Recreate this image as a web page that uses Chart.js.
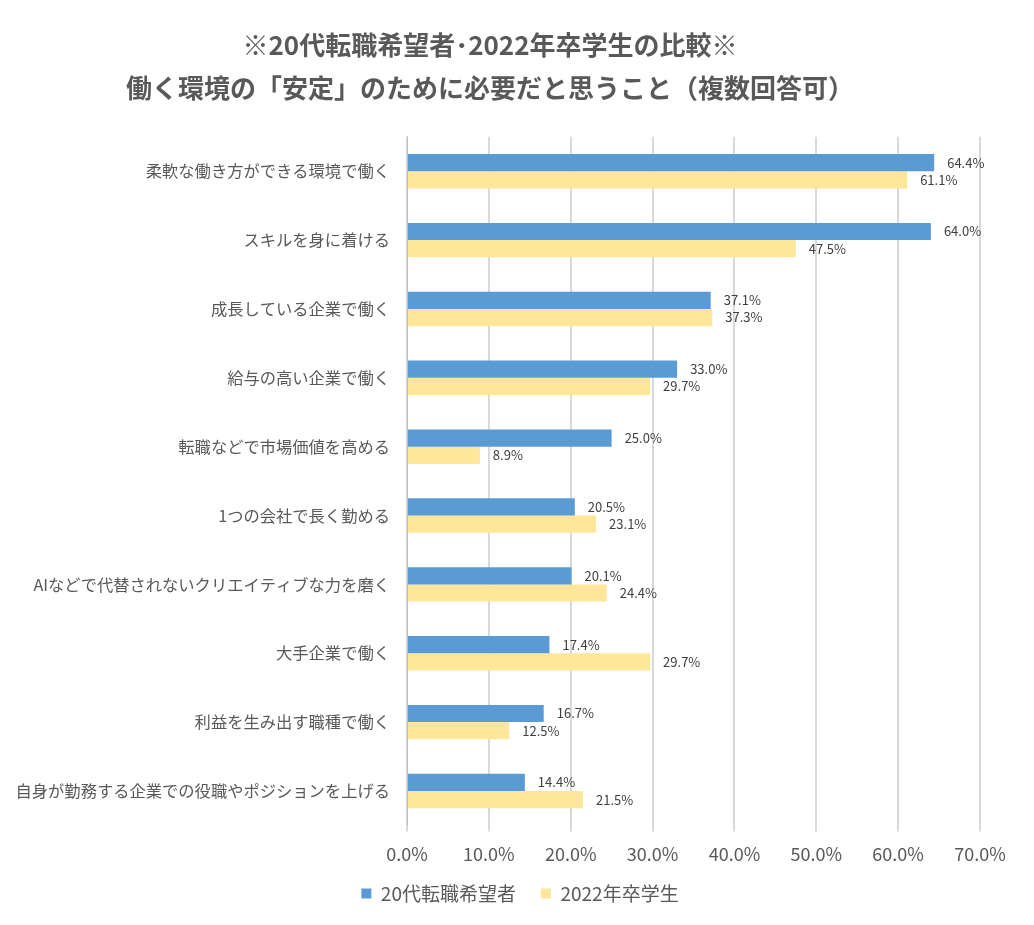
<!DOCTYPE html>
<html>
<head>
<meta charset="utf-8">
<script src="https://cdn.jsdelivr.net/npm/chart.js@4"></script>
<style>
  html, body { margin: 0; padding: 0; background: #fff; }
  #wrap { width: 1034px; height: 925px; }
</style>
</head>
<body>
<div id="wrap"><canvas id="chart"></canvas></div>
<script>
const categories = [
  '柔軟な働き方ができる環境で働く',
  'スキルを身に着ける',
  '成長している企業で働く',
  '給与の高い企業で働く',
  '転職などで市場価値を高める',
  '1つの会社で長く勤める',
  'AIなどで代替されないクリエイティブな力を磨く',
  '大手企業で働く',
  '利益を生み出す職種で働く',
  '自身が勤務する企業での役職やポジションを上げる'
];
const jobSeekers = [64.4, 64.0, 37.1, 33.0, 25.0, 20.5, 20.1, 17.4, 16.7, 14.4];
const graduates = [61.1, 47.5, 37.3, 29.7, 8.9, 23.1, 24.4, 29.7, 12.5, 21.5];
const seriesNames = ['20代転職希望者', '2022年卒学生'];
const titleLines = ['※20代転職希望者･2022年卒学生の比較※', '働く環境の「安定」のために必要だと思うこと（複数回答可）'];

const FONT = "'Noto Sans CJK JP', 'Noto Sans', sans-serif";

// draw value labels to the right of each bar
const valueLabels = {
  id: 'valueLabels',
  afterDatasetsDraw(chart) {
    const ctx = chart.ctx;
    ctx.save();
    ctx.font = '13px ' + FONT;
    ctx.fillStyle = '#404040';
    ctx.textAlign = 'left';
    ctx.textBaseline = 'middle';
    chart.data.datasets.forEach((ds, i) => {
      chart.getDatasetMeta(i).data.forEach((bar, j) => {
        ctx.fillText(ds.data[j].toFixed(1) + '%', bar.x + 13, bar.y);
      });
    });
    ctx.restore();
  }
};

// nudge the legend: centre it on the page and pull it closer to the axis
const legendShift = {
  id: 'legendShift',
  afterLayout(chart) {
    const lg = chart.legend;
    lg.left += 30; lg.right += 30;
    lg.top -= 18; lg.bottom -= 18;
  }
};

new Chart(document.getElementById('chart'), {
  type: 'bar',
  data: {
    labels: categories,
    datasets: [
      { label: seriesNames[0], data: jobSeekers, backgroundColor: '#5B9BD5' },
      { label: seriesNames[1], data: graduates, backgroundColor: '#FFE699' }
    ]
  },
  options: {
    indexAxis: 'y',
    responsive: true,
    maintainAspectRatio: false,
    animation: false,
    categoryPercentage: 0.5,
    barPercentage: 1.0,
    layout: { padding: { left: 0, right: 54, top: 14, bottom: -6 } },
    scales: {
      x: {
        min: 0,
        max: 70,
        ticks: {
          stepSize: 10,
          color: '#595959',
          font: { family: FONT, size: 18 },
          padding: 12,
          callback: v => v.toFixed(1) + '%'
        },
        grid: { color: '#d9d9d9', lineWidth: 2, tickLength: 6, tickColor: '#d9d9d9' },
        border: { display: false }
      },
      y: {
        afterFit(scale) { scale.width = 407; },
        ticks: {
          color: '#595959',
          font: { family: FONT, size: 16.3 },
          padding: 17
        },
        grid: { display: false, drawTicks: false },
        border: { display: true, color: '#bfbfbf', width: 1 }
      }
    },
    plugins: {
      title: {
        display: true,
        text: titleLines,
        color: '#595959',
        font: { family: FONT, size: 26, weight: 'bold', lineHeight: 1.65 },
        padding: { top: 10, bottom: 27 }
      },
      legend: {
        position: 'bottom',
        labels: {
          color: '#595959',
          font: { family: FONT, size: 19 },
          boxWidth: 10,
          boxHeight: 10,
          padding: 25
        }
      },
      tooltip: { enabled: false }
    }
  },
  plugins: [valueLabels, legendShift]
});
</script>
</body>
</html>
